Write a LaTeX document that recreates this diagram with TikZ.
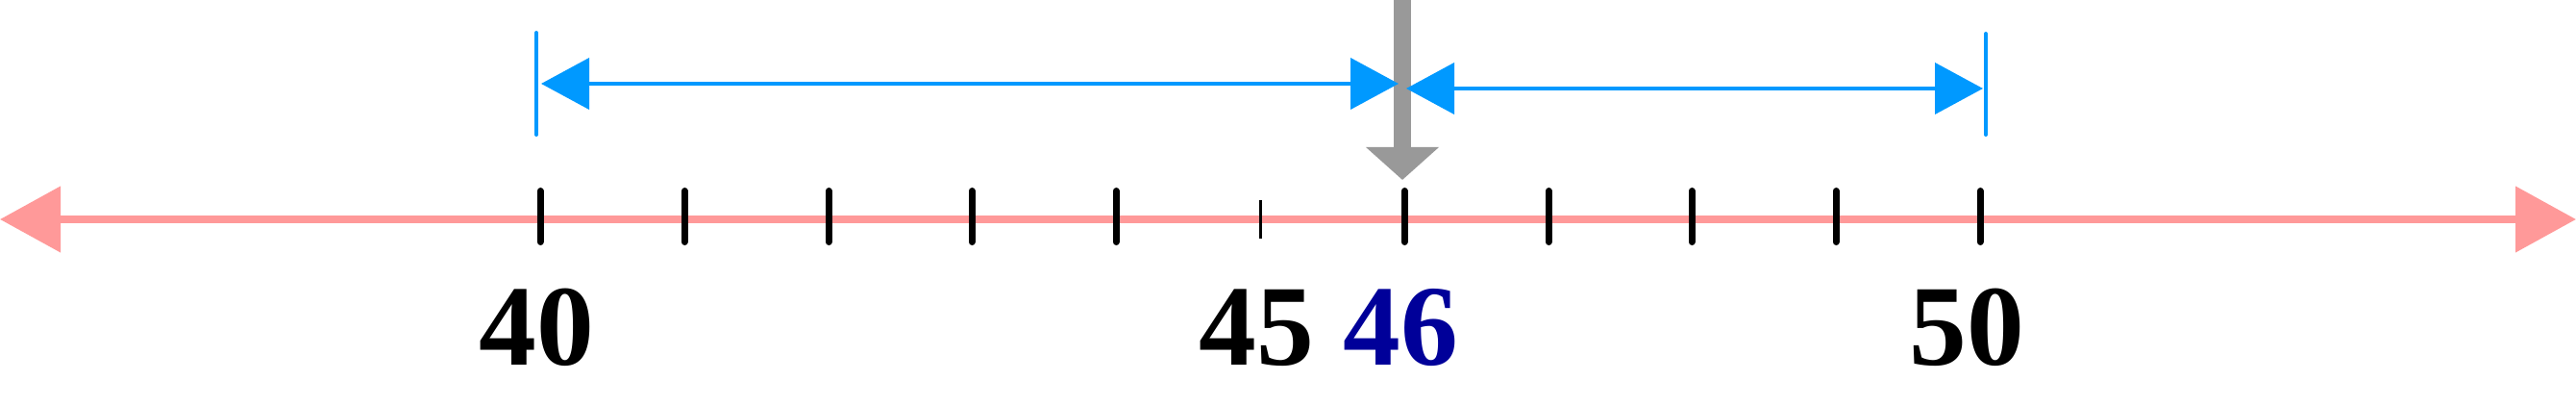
\documentclass[tikz,border=0pt]{standalone}
\usepackage{fontspec}
\setmainfont{Liberation Serif}
\usetikzlibrary{arrows.meta}

\definecolor{eixo}{HTML}{FF9999}
\definecolor{azul}{HTML}{0099FF}
\definecolor{cinza}{HTML}{999999}
\definecolor{azulescuro}{HTML}{000099}

\begin{document}
\begin{tikzpicture}[
    marca/.style={line width=0.07cm, line cap=round},
    marcafina/.style={line width=0.03cm},
    barra/.style={azul, line width=0.04cm, line cap=round},
    seta/.style={azul, line width=0.04cm, {Triangle[length=0.5cm,width=0.53cm]}-{Triangle[length=0.5cm,width=0.53cm]}},
    rotulo/.style={anchor=base, inner sep=0pt, font=\fontsize{34}{40}\selectfont\bfseries}
  ]
  \useasboundingbox (0,0) rectangle (26.8,4.22);

  % Reta numerica
  \coordinate (esq) at (0,1.94);
  \coordinate (dir) at (26.8,1.94);
  \draw[eixo, line width=0.08cm, {Triangle[length=0.63cm,width=0.67cm]}-{Triangle[length=0.63cm,width=0.67cm]}] (esq) -- (dir);

  % Marcas
  \coordinate (p40) at (5.62,1.97);
  \coordinate (p41) at (7.12,1.97);
  \coordinate (p42) at (8.62,1.97);
  \coordinate (p43) at (10.11,1.97);
  \coordinate (p44) at (11.61,1.97);
  \coordinate (p45) at (13.11,1.97);
  \coordinate (p46) at (14.61,1.97);
  \coordinate (p47) at (16.11,1.97);
  \coordinate (p48) at (17.60,1.97);
  \coordinate (p49) at (19.10,1.97);
  \coordinate (p50) at (20.60,1.97);
  \draw[marca] ([yshift=0.265cm]p40) -- ([yshift=-0.265cm]p40);
  \draw[marca] ([yshift=0.265cm]p41) -- ([yshift=-0.265cm]p41);
  \draw[marca] ([yshift=0.265cm]p42) -- ([yshift=-0.265cm]p42);
  \draw[marca] ([yshift=0.265cm]p43) -- ([yshift=-0.265cm]p43);
  \draw[marca] ([yshift=0.265cm]p44) -- ([yshift=-0.265cm]p44);
  \draw[marcafina] ([yshift=0.17cm]p45) -- ([yshift=-0.23cm]p45);
  \draw[marca] ([yshift=0.265cm]p46) -- ([yshift=-0.265cm]p46);
  \draw[marca] ([yshift=0.265cm]p47) -- ([yshift=-0.265cm]p47);
  \draw[marca] ([yshift=0.265cm]p48) -- ([yshift=-0.265cm]p48);
  \draw[marca] ([yshift=0.265cm]p49) -- ([yshift=-0.265cm]p49);
  \draw[marca] ([yshift=0.265cm]p50) -- ([yshift=-0.265cm]p50);

  % Rotulos
  \node[rotulo] (r40) at (5.58,0.42) {40};
  \node[rotulo] (r45) at (13.07,0.42) {45};
  \node[rotulo, text=azulescuro] (r46) at (14.57,0.42) {46};
  \node[rotulo] (r50) at (20.46,0.42) {50};

  % Seta cinza
  \coordinate (topo) at (14.59,4.3);
  \coordinate (ponta) at (14.59,2.35);
  \draw[cinza, line width=0.18cm, -{Triangle[length=0.34cm,width=0.74cm]}] (topo) -- (ponta);

  % Barras e setas azuis
  \coordinate (b1a) at (5.58,3.88);
  \coordinate (b1b) at (5.58,2.82);
  \coordinate (b2a) at (20.66,3.87);
  \coordinate (b2b) at (20.66,2.82);
  \draw[barra] (b1a) -- (b1b);
  \draw[barra] (b2a) -- (b2b);
  \coordinate (s1a) at (5.63,3.35);
  \coordinate (s1b) at (14.55,3.35);
  \coordinate (s2a) at (14.63,3.30);
  \coordinate (s2b) at (20.63,3.30);
  \draw[seta] (s1a) -- (s1b);
  \draw[seta] (s2a) -- (s2b);
\end{tikzpicture}
\end{document}
